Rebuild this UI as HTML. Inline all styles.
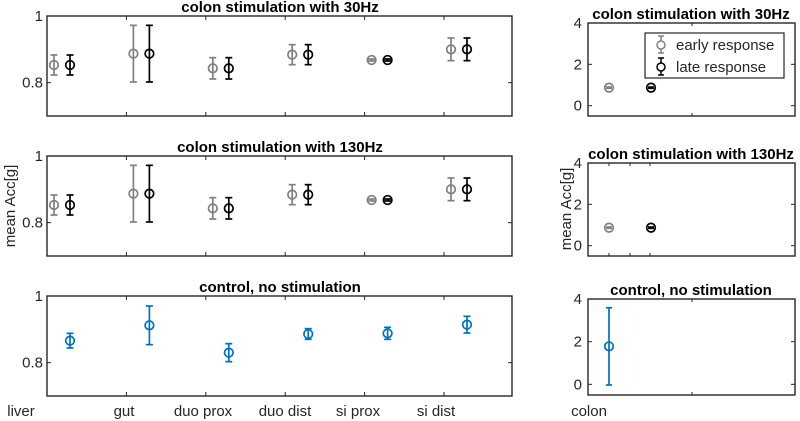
<!DOCTYPE html>
<html><head><meta charset="utf-8"><style>
body{margin:0;background:#fff;}
svg{display:block;font-family:"Liberation Sans",Arial,sans-serif;}
</style></head><body>
<svg id="fig" width="800" height="421" viewBox="0 0 800 421" xmlns="http://www.w3.org/2000/svg"></svg>
<script>
const categories = ["liver","gut","duo prox","duo dist","si prox","si dist"];
const earlyMean30 = [0.853,0.887,0.843,0.884,0.868,0.900];
const earlyErr30  = [0.030,0.085,0.032,0.030,0.003,0.034];
const lateMean30  = [0.853,0.887,0.843,0.884,0.868,0.900];
const lateErr30   = [0.030,0.085,0.032,0.030,0.003,0.034];
const earlyMean130 = [0.853,0.887,0.843,0.884,0.868,0.900];
const earlyErr130  = [0.030,0.085,0.032,0.030,0.003,0.034];
const lateMean130  = [0.853,0.887,0.843,0.884,0.868,0.900];
const lateErr130   = [0.030,0.085,0.032,0.030,0.003,0.034];
const controlMean = [0.866,0.912,0.830,0.886,0.888,0.914];
const controlErr  = [0.022,0.058,0.027,0.016,0.018,0.025];
const colonEarly30 = [0.87], colonEarlyErr30=[0.03];
const colonLate30 = [0.87], colonLateErr30=[0.03];
const colonEarly130 = [0.87], colonEarlyErr130=[0.03];
const colonLate130 = [0.87], colonLateErr130=[0.03];
const colonControl = [1.78], colonControlErr=[1.81];
const leftTicks = [0.8,1];
const leftTickLabels = ["0.8","1"];
const rightTicks = [0,2,4];
const rightTickLabels = ["0","2","4"];

const NS="http://www.w3.org/2000/svg";
const svg=document.getElementById('fig');
function el(tag,attrs,parent){const e=document.createElementNS(NS,tag);for(const k in attrs)e.setAttribute(k,attrs[k]);(parent||svg).appendChild(e);return e;}
function txt(s,attrs){const t=el('text',attrs);t.textContent=s;return t;}

const GRAY="#808080",BLACK="#000000",BLUE="#0072BD";
function lx(i){return 47+i*79.4;}
function makeLeftY(top,bottom){return v=>bottom-(v-0.7)/0.3*(bottom-top);}
function makeRightY(top,bottom){return v=>bottom-(v+0.5)/4.5*(bottom-top);}

function errbar(x,yf,m,e,color,name,cap){
  const g=el('g',{});
  
  
  const y1=yf(m-e),y2=yf(m+e);
  el('line',{x1:x,x2:x,y1:y1,y2:y2,stroke:color,'stroke-width':1.7},g);
  el('line',{x1:x-cap,x2:x+cap,y1:y1,y2:y1,stroke:color,'stroke-width':1.7},g);
  el('line',{x1:x-cap,x2:x+cap,y1:y2,y2:y2,stroke:color,'stroke-width':1.7},g);
  el('circle',{cx:x,cy:yf(m),r:4.3,fill:'none',stroke:color,'stroke-width':1.7},g);
}

function leftPanel(top,bottom,title,series,pname){
  const y=makeLeftY(top,bottom);
  const g=el('g',{});
  
  
  const t=txt(title,{x:280,y:top-4,'text-anchor':'middle','font-size':15,'font-weight':'bold',fill:'#000'});
  
  
  el('rect',{x:47,y:top,width:465,height:bottom-top,fill:'none',stroke:'#262626','stroke-width':1.4},g);
  for(let i=1;i<categories.length;i++){
    el('line',{x1:lx(i),x2:lx(i),y1:bottom,y2:bottom-4,stroke:'#262626'},g);
    el('line',{x1:lx(i),x2:lx(i),y1:top,y2:top+4,stroke:'#262626'},g);
  }
  leftTicks.forEach((v,k)=>{
    el('line',{x1:47,x2:51,y1:y(v),y2:y(v),stroke:'#262626'},g);
    el('line',{x1:512,x2:508,y1:y(v),y2:y(v),stroke:'#262626'},g);
    const l=txt(leftTickLabels[k],{x:43,y:y(v)+5,'text-anchor':'end','font-size':15,fill:'#262626'});
    
    
  });
  series.forEach(s=>{
    s.m.forEach((m,i)=>errbar(lx(i)+s.off,y,m,s.e[i],s.c,s.n+'-'+i,3.5));
  });
}
function rightPanel(top,bottom,title,series,ticksX,pname){
  const y=makeRightY(top,bottom);
  const g=el('g',{});
  
  
  const t=txt(title,{x:691,y:top-4,'text-anchor':'middle','font-size':15,'font-weight':'bold',fill:'#000'});
  
  
  el('rect',{x:588,y:top,width:207,height:bottom-top,fill:'none',stroke:'#262626','stroke-width':1.4},g);
  ticksX.forEach(x=>{
    el('line',{x1:x,x2:x,y1:bottom,y2:bottom-3,stroke:'#262626'},g);
    el('line',{x1:x,x2:x,y1:top,y2:top+3,stroke:'#262626'},g);
  });
  rightTicks.forEach((v,k)=>{
    el('line',{x1:588,x2:592,y1:y(v),y2:y(v),stroke:'#262626'},g);
    el('line',{x1:795,x2:791,y1:y(v),y2:y(v),stroke:'#262626'},g);
    const l=txt(rightTickLabels[k],{x:582,y:y(v)+5,'text-anchor':'end','font-size':15,fill:'#262626'});
    
    
  });
  series.forEach(s=>s.m.forEach((m,i)=>errbar(s.x,y,m,s.e[i],s.c,s.n,3)));
}

leftPanel(16,116,"colon stimulation with 30Hz",[
  {m:earlyMean30,e:earlyErr30,c:GRAY,off:7,n:'early-30'},
  {m:lateMean30,e:lateErr30,c:BLACK,off:23,n:'late-30'}],'panel-30hz');
leftPanel(156,256,"colon stimulation with 130Hz",[
  {m:earlyMean130,e:earlyErr130,c:GRAY,off:7,n:'early-130'},
  {m:lateMean130,e:lateErr130,c:BLACK,off:23,n:'late-130'}],'panel-130hz');
leftPanel(296,396,"control, no stimulation",[
  {m:controlMean,e:controlErr,c:BLUE,off:23,n:'control'}],'panel-control');

rightPanel(23,116,"colon stimulation with 30Hz",[
  {m:colonEarly30,e:colonEarlyErr30,c:GRAY,x:609,n:'colon-early-30'},
  {m:colonLate30,e:colonLateErr30,c:BLACK,x:651,n:'colon-late-30'}],[692],'panel-colon-30hz');
rightPanel(163,256,"colon stimulation with 130Hz",[
  {m:colonEarly130,e:colonEarlyErr130,c:GRAY,x:609,n:'colon-early-130'},
  {m:colonLate130,e:colonLateErr130,c:BLACK,x:651,n:'colon-late-130'}],[609,630,650],'panel-colon-130hz');
rightPanel(299,395,"control, no stimulation",[
  {m:colonControl,e:colonControlErr,c:BLUE,x:609,n:'colon-control'}],[692],'panel-colon-control');

const labelX=[21,124,203,285,358,436];
categories.forEach((c,i)=>{
  const t=txt(c,{x:labelX[i],y:416,'text-anchor':'middle','font-size':15,fill:'#262626'});
  
  
});
const cl=txt("colon",{x:589,y:416,'text-anchor':'middle','font-size':15,fill:'#262626'});



const yl=txt("mean Acc[g]",{x:0,y:0,'text-anchor':'middle','font-size':15,fill:'#262626',transform:'translate(15,206) rotate(-90)'});


const yr=txt("mean Acc[g]",{x:0,y:0,'text-anchor':'middle','font-size':15,fill:'#262626',transform:'translate(571,209) rotate(-90)'});



const lg=el('g',{});


el('rect',{x:645,y:33,width:139,height:45,fill:'#fff',stroke:'#262626','stroke-width':1.2},lg);
[[GRAY,'early response',45],[BLACK,'late response',67]].forEach(([c,s,yy])=>{
  const e=el('g',{},lg);
  
  
  el('line',{x1:661,x2:661,y1:yy-9,y2:yy+8,stroke:c,'stroke-width':1.5},e);
  el('line',{x1:658,x2:664,y1:yy-9,y2:yy-9,stroke:c,'stroke-width':1.5},e);
  el('line',{x1:658,x2:664,y1:yy+8,y2:yy+8,stroke:c,'stroke-width':1.5},e);
  el('circle',{cx:661,cy:yy,r:4,fill:'#fff',stroke:c,'stroke-width':1.5},e);
  const t=el('text',{x:676,y:yy+5,'font-size':15,fill:'#262626'},e);
  t.textContent=s;
});
</script>
</body></html>
